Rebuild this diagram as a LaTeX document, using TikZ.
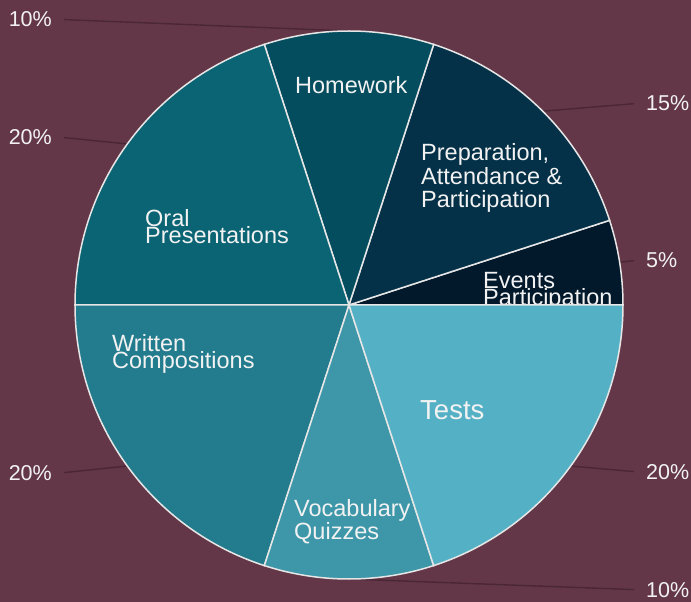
\documentclass[tikz,border=0pt]{standalone}
\usepackage{fontspec}
\setmainfont{Liberation Sans}
\definecolor{plum}{HTML}{633747}
\definecolor{leader}{HTML}{4B2636}
\definecolor{rim}{HTML}{E6E6E6}
\definecolor{ink}{HTML}{F2F2F2}
\definecolor{events}{HTML}{02192C}
\definecolor{prep}{HTML}{043148}
\definecolor{homework}{HTML}{034D5F}
\definecolor{oral}{HTML}{0A6474}
\definecolor{written}{HTML}{227C8D}
\definecolor{vocab}{HTML}{3D97A9}
\definecolor{tests}{HTML}{54B1C5}
\begin{document}
\begin{tikzpicture}
[x=1pt,y=1pt,every node/.style={text=ink,inner sep=0pt}]
\useasboundingbox[fill=plum] (-349,-297) rectangle (342,305);
\tikzset{pct/.style={font=\fontsize{21.5}{21.5}\selectfont,inner xsep=12pt},
lbl/.style={font=\fontsize{23.5}{17.6}\selectfont,align=left,anchor=base west},
slice/.style={draw=rim,line width=1.5pt},
lead/.style={draw=leader,line width=1.4pt}}
\node[pct,anchor=base east] (phome) at (-285,278) {10\%};
\node[pct,anchor=base east] (poral) at (-285,160) {20\%};
\node[pct,anchor=base east] (pwritten) at (-285,-175) {20\%};
\node[pct,anchor=base west] (pprep) at (285,194) {15\%};
\node[pct,anchor=base west] (pevents) at (285,37) {5\%};
\node[pct,anchor=base west] (ptests) at (285,-174) {20\%};
\node[pct,anchor=base west] (pvocab) at (285,-292) {10\%};
\coordinate (mevents) at (9:274);
\coordinate (mprep) at (45:274);
\coordinate (mhome) at (90:274);
\coordinate (moral) at (144:274);
\coordinate (mwritten) at (216:274);
\coordinate (mvocab) at (270:274);
\coordinate (mtests) at (324:274);
\draw[lead] (phome.east) -- (mhome);
\draw[lead] (poral.east) -- (moral);
\draw[lead] (pwritten.east) -- (mwritten);
\draw[lead] (pprep.west) -- (mprep);
\draw[lead] (pevents.west) -- (mevents);
\draw[lead] (ptests.west) -- (mtests);
\draw[lead] (pvocab.west) -- (mvocab);
\filldraw[slice,fill=events] (0,0) -- (0:274) arc[start angle=0,end angle=18,radius=274] -- cycle;
\node[lbl] (events) at (134,-1) {Events\\Participation};
\filldraw[slice,fill=prep] (0,0) -- (18:274) arc[start angle=18,end angle=72,radius=274] -- cycle;
\node[lbl,font=\fontsize{23.5}{23.7}\selectfont] (prepl) at (72,97) {Preparation,\\Attendance \&\\Participation};
\filldraw[slice,fill=homework] (0,0) -- (72:274) arc[start angle=72,end angle=108,radius=274] -- cycle;
\node[lbl] (homel) at (-54,211) {Homework};
\filldraw[slice,fill=oral] (0,0) -- (108:274) arc[start angle=108,end angle=180,radius=274] -- cycle;
\node[lbl] (orall) at (-204,61) {Oral\\Presentations};
\filldraw[slice,fill=written] (0,0) -- (180:274) arc[start angle=180,end angle=252,radius=274] -- cycle;
\node[lbl] (writtenl) at (-237,-64) {Written\\Compositions};
\filldraw[slice,fill=vocab] (0,0) -- (252:274) arc[start angle=252,end angle=288,radius=274] -- cycle;
\node[lbl] (vocabl) at (-55,-234) {Vocabulary\\Quizzes};
\filldraw[slice,fill=tests] (0,0) -- (288:274) arc[start angle=288,end angle=360,radius=274] -- cycle;
\node[lbl,font=\fontsize{27.5}{27.5}\selectfont] (testsl) at (71,-114) {Tests};
\end{tikzpicture}
\end{document}
